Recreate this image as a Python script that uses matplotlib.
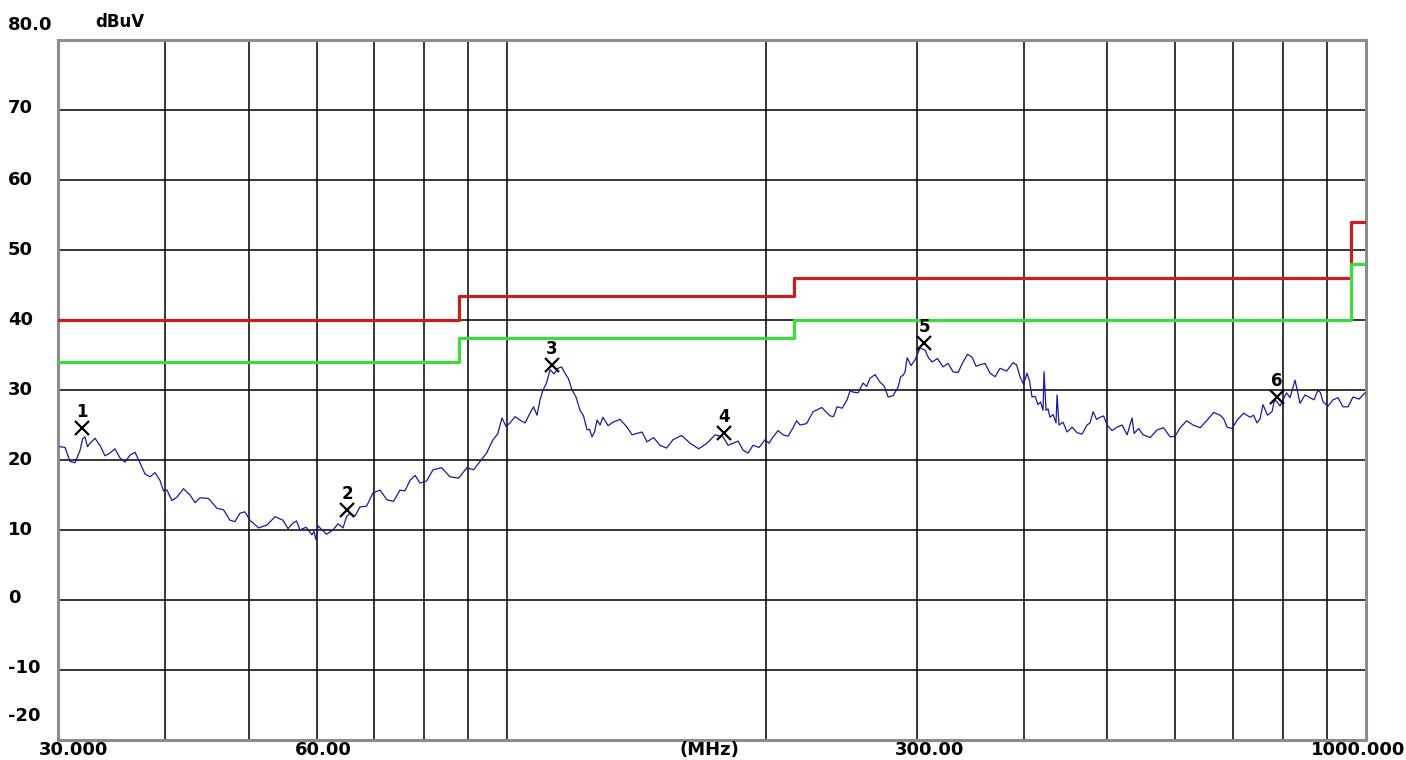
import numpy as np
import matplotlib.pyplot as plt
from matplotlib.ticker import NullFormatter, NullLocator

# peak scan trace (MHz, dBuV)
freq_mhz = [30.16, 30.98, 31.83, 32.25, 32.69, 33.57, 34.49, 35.42, 36.39, 37.37,
            38.39, 39.43, 40.18, 41.27, 42.74, 43.90, 45.94, 47.57, 48.86, 50.19,
            52.53, 54.84, 56.33, 57.40, 59.27, 59.91, 60.56, 62.71, 64.41, 65.63,
            67.41, 69.80, 72.47, 75.04, 77.08, 79.18, 81.98, 85.81, 89.80, 93.00,
            96.30, 98.65, 100.79, 103.53, 106.34, 108.35, 110.11, 112.20, 114.63, 116.80,
            119.01, 121.59, 123.90, 125.57, 127.26, 129.32, 132.84, 137.91, 141.66, 145.52,
            150.68, 156.02, 163.30, 170.92, 178.41, 183.26, 188.24, 193.36, 199.68, 204.00,
            209.55, 215.25, 219.32, 227.10, 237.69, 242.19, 248.78, 252.82, 259.70, 264.62,
            271.82, 277.71, 285.25, 289.10, 292.22, 298.49, 306.60, 312.41, 321.77, 330.51,
            339.50, 347.78, 355.32, 364.99, 374.91, 388.20, 395.55, 403.04, 408.48, 415.10,
            420.71, 421.84, 424.10, 428.68, 435.63, 436.80, 439.15, 448.67, 460.88, 473.41,
            481.09, 490.22, 499.51, 513.10, 527.04, 534.16, 537.03, 550.16, 571.20, 591.45,
            607.53, 629.07, 653.13, 676.29, 689.10, 707.82, 732.93, 746.67, 758.76, 777.30,
            787.80, 800.58, 815.73, 826.74, 837.90, 860.67, 879.33, 891.18, 915.39, 940.23,
            965.79, 997.41]
level_dbuv = [21.9, 19.8, 21.4, 23.3, 22.4, 22.1, 21.0, 20.3, 20.7, 19.6,
              17.6, 17.1, 15.7, 14.7, 15.0, 14.6, 13.1, 11.4, 12.4, 11.4,
              10.7, 11.4, 11.0, 10.0, 9.3, 8.6, 10.3, 10.0, 10.3, 12.4,
              13.3, 15.3, 14.3, 15.7, 17.1, 16.7, 18.6, 17.6, 18.9, 19.8,
              22.9, 26.0, 25.3, 25.7, 26.7, 26.4, 30.0, 32.9, 33.1, 32.4,
              30.0, 27.1, 24.3, 23.3, 25.7, 26.1, 25.4, 24.7, 23.8, 22.6,
              22.1, 22.9, 22.4, 22.4, 23.3, 22.4, 21.4, 22.1, 22.9, 23.3,
              23.6, 24.6, 25.0, 26.9, 26.3, 27.6, 28.6, 29.7, 31.0, 31.7,
              31.1, 29.0, 30.4, 32.1, 34.6, 34.3, 35.7, 34.0, 33.3, 32.6,
              34.0, 34.7, 33.6, 32.4, 33.1, 33.9, 31.9, 32.4, 29.0, 27.9,
              27.1, 32.6, 27.1, 26.1, 25.3, 29.3, 25.0, 24.0, 23.9, 25.0,
              26.9, 26.1, 25.0, 24.7, 23.6, 26.0, 23.8, 23.6, 24.3, 23.3,
              24.6, 25.0, 25.7, 26.4, 24.7, 25.7, 26.1, 25.3, 27.9, 26.9,
              28.3, 28.6, 28.9, 31.4, 28.1, 28.9, 30.0, 28.3, 28.6, 27.6,
              29.0, 29.6]

# in-between readings of the noise ripple
ripple_freq = [30.57, 31.40, 32.04, 32.47, 33.13, 34.03, 34.95, 35.90, 36.88, 37.88,
               38.91, 39.80, 40.72, 42.00, 43.32, 44.92, 46.75, 48.21, 49.52, 51.36,
               53.68, 55.58, 56.86, 58.33, 59.59, 60.23, 61.63, 63.56, 65.02, 66.52,
               68.60, 71.13, 73.75, 76.06, 78.13, 80.58, 83.90, 87.80, 91.40, 94.65,
               97.48, 99.72, 102.16, 104.93, 107.34, 109.23, 111.15, 113.41, 115.71, 117.90,
               120.30, 122.74, 124.73, 126.41, 128.29, 131.08, 135.37, 139.78, 143.59, 148.10,
               153.35, 159.66, 167.11, 174.66, 180.84, 185.75, 190.80, 196.52, 201.84, 206.78,
               212.40, 217.29, 223.21, 232.40, 239.94, 245.49, 250.80, 256.26, 262.16, 268.22,
               274.77, 281.48, 287.18, 290.66, 295.36, 302.55, 309.50, 317.09, 326.14, 335.00,
               343.64, 351.55, 360.15, 369.95, 381.55, 391.88, 399.30, 405.76, 411.79, 417.90,
               426.39, 432.15, 443.91, 454.77, 467.14, 477.25, 485.65, 494.86, 506.30, 520.07,
               543.59, 560.68, 581.32, 599.49, 618.30, 641.10, 664.71, 682.70, 698.46, 720.38,
               739.80, 752.72, 768.03, 782.55, 794.19, 808.16, 849.29, 870.00, 885.26, 903.29,
               927.81, 953.01, 981.60]
ripple_level = [21.8, 19.6, 23.0, 21.9, 23.1, 20.6, 21.6, 19.7, 21.1, 18.0,
                18.2, 15.6, 14.2, 15.9, 13.9, 14.5, 12.9, 11.2, 12.6, 10.3,
                11.9, 10.2, 11.3, 10.4, 9.8, 10.6, 9.4, 10.9, 11.9, 12.0,
                13.4, 15.7, 14.1, 15.6, 17.8, 17.0, 18.9, 17.4, 18.6, 21.0,
                23.7, 24.8, 26.2, 25.3, 27.6, 28.6, 31.0, 32.3, 33.3, 31.6,
                29.0, 26.3, 24.4, 24.0, 25.0, 24.9, 25.8, 23.6, 24.0, 23.2,
                21.7, 23.5, 21.6, 23.6, 22.1, 22.7, 21.0, 21.8, 22.4, 24.2,
                23.4, 25.6, 25.2, 27.5, 26.2, 27.4, 29.9, 29.6, 30.5, 32.2,
                30.6, 29.2, 31.9, 32.6, 33.5, 36.0, 34.6, 34.5, 33.8, 32.5,
                35.1, 33.4, 33.8, 31.9, 32.7, 33.6, 30.8, 31.3, 29.1, 28.3,
                27.3, 26.5, 25.4, 24.7, 23.7, 25.3, 25.8, 26.3, 24.2, 25.0,
                24.5, 23.2, 24.6, 23.4, 25.6, 24.6, 26.8, 25.9, 24.5, 26.7,
                26.4, 25.9, 26.4, 28.6, 27.7, 29.6, 29.3, 28.6, 29.6, 27.7,
                28.9, 27.6, 28.7]

# limit lines (step edges)
limit_freq = [30, 88, 216, 960, 1000]
limit_qp = [40, 43.5, 46, 54, 54]
limit_av = [34, 37.5, 40, 48, 48]

# marked peaks
marker_freq = [32.0, 65.1, 112.8, 178.9, 305.8, 787.8]
marker_level = [24.6, 12.9, 33.6, 23.9, 36.7, 29.0]

y_grid = [70, 60, 50, 40, 30, 20, 10, 0, -10]
x_grid = [40, 50, 60, 70, 80, 90, 100, 200, 300, 400, 500, 600, 700, 800, 900]
y_labels = ["80.0", "70", "60", "50", "40", "30", "20", "10", "0", "-10", "-20"]
y_label_px = [25, 108, 180, 250, 320, 390, 460, 530, 598, 668, 716]
x_labels = ["30.000", "60.00", "(MHz)", "300.00", "1000.000"]
x_label_px = [73, 323, 709, 930, 1358]

# merge both readings into one trace, sorted by frequency
trace_f = np.array(freq_mhz + ripple_freq)
trace_l = np.array(level_dbuv + ripple_level)
order = np.argsort(trace_f)
trace_f = trace_f[order]
trace_l = trace_l[order]

W, H = 1406, 760
fig = plt.figure(figsize=(W / 100, H / 100), dpi=100)
ax = fig.add_axes([58 / W, 1 - 740 / H, 1308 / W, 700 / H])

ax.set_xscale("log")
ax.set_xlim(30, 1000)
ax.set_ylim(-20, 80)
ax.xaxis.set_major_locator(NullLocator())
ax.xaxis.set_minor_locator(NullLocator())
ax.xaxis.set_major_formatter(NullFormatter())
ax.xaxis.set_minor_formatter(NullFormatter())
ax.set_yticks([])

for yv in y_grid:
    ax.axhline(yv, color="black", lw=1.1, zorder=1)
for xv in x_grid:
    ax.axvline(xv, color="black", lw=1.1, zorder=1)

for sp in ax.spines.values():
    sp.set_color("#8c8c8c")
    sp.set_linewidth(2.2)

ax.step(limit_freq, limit_qp, where="post", color="#c81e1e", lw=2.3, zorder=3)
ax.step(limit_freq, limit_av, where="post", color="#3ddb3d", lw=2.3, zorder=3)

ax.plot(trace_f, trace_l, color="#1a1a9c", lw=0.9, zorder=4)

ax.plot(marker_freq, marker_level, ls="none", marker="x", color="black",
        ms=10, mew=1.6, zorder=5)
for i, (f, lv) in enumerate(zip(marker_freq, marker_level)):
    ax.annotate(str(i + 1), (f, lv), xytext=(0, 11.5), textcoords="offset points",
                ha="center", va="center", fontsize=12, fontweight="bold", zorder=6)

for lab, ypx in zip(y_labels, y_label_px):
    fig.text(8 / W, 1 - ypx / H, lab, ha="left", va="center",
             fontsize=13, fontweight="bold")
fig.text(95 / W, 1 - 22 / H, "dBuV", ha="left", va="center",
         fontsize=12, fontweight="bold")
for lab, xpx in zip(x_labels, x_label_px):
    fig.text(xpx / W, 1 - 750 / H, lab, ha="center", va="center",
             fontsize=13, fontweight="bold")

fig.savefig("out.png", dpi=100, facecolor="white")
